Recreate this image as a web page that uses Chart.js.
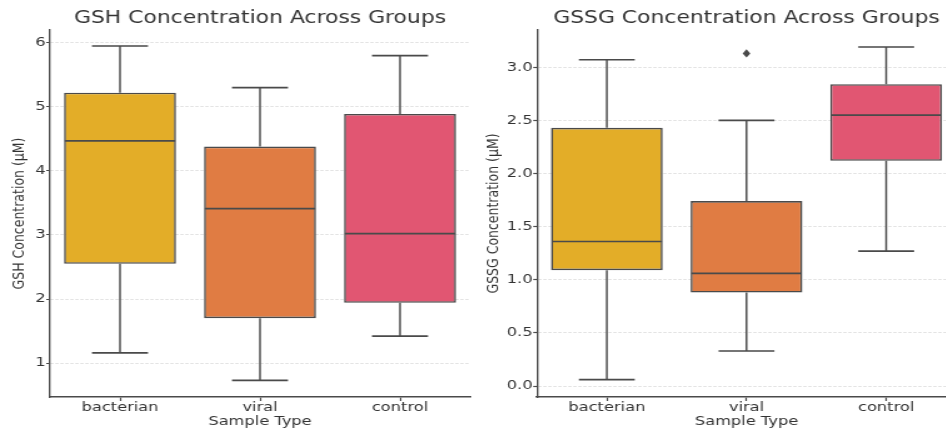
<!DOCTYPE html>
<html>
<head>
<meta charset="utf-8">
<script src="https://cdn.jsdelivr.net/npm/chart.js@4/dist/chart.umd.min.js"></script>
<style>
html, body { margin: 0; padding: 0; background: #fff; overflow: hidden; width: 946px; height: 431px; }
/* the reference is stretched sideways, so each panel is drawn narrow and scaled */
.panel { position: absolute; top: 0; transform: scaleX(1.25); transform-origin: 0 0; }
</style>
</head>
<body>
<div class="panel" style="left:0"><canvas id="gsh" width="378" height="431"></canvas></div>
<div class="panel" style="left:473px"><canvas id="gssg" width="389" height="431"></canvas></div>
<script>
const categories = ['bacterian', 'viral', 'control'];
const boxColors = ['#E3AD28', '#E07C43', '#E15672'];

// GSH (µM)
const gshLow = [1.16, 0.73, 1.42];
const gshQ1 = [2.55, 1.70, 1.94];
const gshMedian = [4.47, 3.41, 3.02];
const gshQ3 = [5.22, 4.38, 4.89];
const gshHigh = [5.95, 5.30, 5.80];
const gshOutliers = [[], [], []];
const gshTicks = [1, 2, 3, 4, 5, 6];

// GSSG (µM)
const gssgLow = [0.06, 0.33, 1.27];
const gssgQ1 = [1.09, 0.88, 2.12];
const gssgMedian = [1.36, 1.06, 2.55];
const gssgQ3 = [2.43, 1.74, 2.84];
const gssgHigh = [3.07, 2.50, 3.19];
const gssgOutliers = [[], [3.13], []];
const gssgTicks = [0, 0.5, 1.0, 1.5, 2.0, 2.5, 3.0];

const EDGE = '#4a4a4a';
const TEXT = '#333333';
const SX = 1.25; // horizontal stretch of the panels

Chart.defaults.font.family = "'DejaVu Sans', sans-serif";

// whiskers, caps, medians and fliers drawn through the y scale
function whiskerPlugin(low, median, high, q1, q3, outliers) {
  return {
    id: 'whiskers',
    afterDatasetsDraw(chart) {
      const ctx = chart.ctx;
      const y = chart.scales.y;
      const bars = chart.getDatasetMeta(0).data;
      ctx.save();
      ctx.strokeStyle = EDGE;
      ctx.fillStyle = EDGE;
      ctx.lineCap = 'butt';
      bars.forEach((bar, i) => {
        const cx = bar.x;
        const half = bar.width / 2;
        const yLow = y.getPixelForValue(low[i]);
        const yHigh = y.getPixelForValue(high[i]);
        const yQ1 = y.getPixelForValue(q1[i]);
        const yQ3 = y.getPixelForValue(q3[i]);
        const yMed = y.getPixelForValue(median[i]);

        // vertical whiskers
        ctx.lineWidth = 1.8 / SX;
        ctx.beginPath();
        ctx.moveTo(cx, yQ3); ctx.lineTo(cx, yHigh);
        ctx.moveTo(cx, yQ1); ctx.lineTo(cx, yLow);
        ctx.stroke();

        // caps and median
        ctx.lineWidth = 1.7;
        ctx.beginPath();
        ctx.moveTo(cx - half / 2, yHigh); ctx.lineTo(cx + half / 2, yHigh);
        ctx.moveTo(cx - half / 2, yLow); ctx.lineTo(cx + half / 2, yLow);
        ctx.moveTo(cx - half + 0.7, yMed); ctx.lineTo(cx + half - 0.7, yMed);
        ctx.stroke();

        // outliers as diamonds
        outliers[i].forEach(v => {
          const py = y.getPixelForValue(v);
          ctx.beginPath();
          ctx.moveTo(cx, py - 4.2);
          ctx.lineTo(cx + 3.1, py);
          ctx.lineTo(cx, py + 4.2);
          ctx.lineTo(cx - 3.1, py);
          ctx.closePath();
          ctx.fill();
        });
      });
      ctx.restore();
    }
  };
}

function makeBoxChart(id, o) {
  return new Chart(document.getElementById(id), {
    type: 'bar',
    data: {
      labels: categories,
      datasets: [{
        data: o.q1.map((v, i) => [v, o.q3[i]]),
        backgroundColor: boxColors,
        borderColor: EDGE,
        borderWidth: 1.6,
        borderSkipped: false,
        barPercentage: 0.8,
        categoryPercentage: 1
      }]
    },
    options: {
      responsive: false,
      animation: false,
      devicePixelRatio: 1,
      layout: { padding: { left: 0, right: o.padRight, top: 0, bottom: 0 } },
      plugins: {
        legend: { display: false },
        tooltip: { enabled: false },
        title: {
          display: true,
          fullSize: false,
          text: o.title,
          color: TEXT,
          font: { size: 17.5, weight: 'normal' },
          padding: { top: 8, bottom: 1 }
        }
      },
      scales: {
        x: {
          offset: true,
          afterFit: s => { s.height = 34; },
          grid: {
            display: true, offset: false, drawOnChartArea: false, drawTicks: true,
            tickLength: 4, tickColor: EDGE, tickWidth: 1.5 / SX
          },
          border: { display: true, color: EDGE, width: 1.6 },
          ticks: { color: TEXT, font: { size: 13 }, padding: -1.5, maxRotation: 0 },
          title: {
            display: true, text: 'Sample Type', color: TEXT,
            font: { size: 13 }, padding: { top: 0, bottom: 1.5 }
          }
        },
        y: {
          min: o.min,
          max: o.max,
          z: 1,
          afterBuildTicks: s => { s.ticks = o.ticks.map(v => ({ value: v })); },
          afterFit: s => { s.width = o.yWidth; },
          grid: {
            color: 'rgba(185,185,185,0.55)', lineWidth: 0.8,
            tickLength: 3, tickColor: EDGE, tickWidth: 1.2, tickBorderDash: []
          },
          border: { display: true, color: EDGE, width: 1.7 / SX, dash: [2.4, 1.6] },
          ticks: { color: TEXT, font: { size: 13 }, padding: 0.5, callback: o.fmt },
          title: {
            display: true, text: o.yTitle, color: TEXT,
            font: { size: 12.5 },
            padding: { top: o.yTitlePad, bottom: 0 }
          }
        }
      }
    },
    plugins: [whiskerPlugin(o.low, o.median, o.high, o.q1, o.q3, o.outliers)]
  });
}

makeBoxChart('gsh', {
  title: 'GSH Concentration Across Groups',
  yTitle: 'GSH Concentration (µM)',
  low: gshLow, q1: gshQ1, median: gshMedian, q3: gshQ3, high: gshHigh, outliers: gshOutliers,
  ticks: gshTicks, min: 0.47, max: 6.2,
  fmt: v => String(v),
  yWidth: 40, yTitlePad: 8, padRight: 2
});

makeBoxChart('gssg', {
  title: 'GSSG Concentration Across Groups',
  yTitle: 'GSSG Concentration (µM)',
  low: gssgLow, q1: gssgQ1, median: gssgMedian, q3: gssgQ3, high: gssgHigh, outliers: gssgOutliers,
  ticks: gssgTicks, min: -0.103, max: 3.35,
  fmt: v => Number(v).toFixed(1),
  yWidth: 51.2, yTitlePad: 9.6, padRight: 2.6
});
</script>
</body>
</html>
